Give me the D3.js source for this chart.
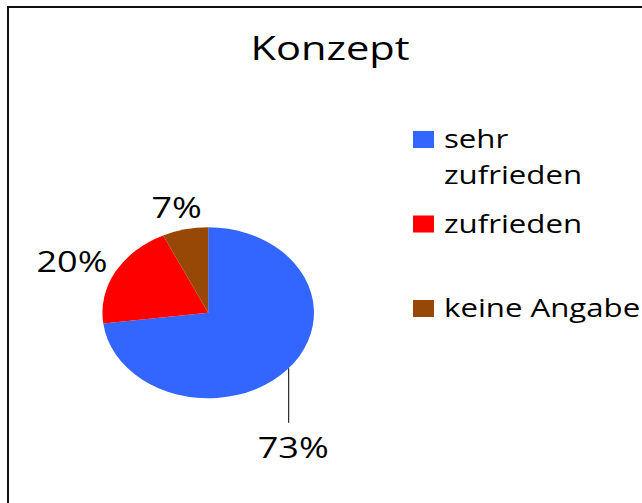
<!DOCTYPE html>
<html>
<head>
<meta charset="utf-8">
<script src="https://cdn.jsdelivr.net/npm/d3@7"></script>
<style>
  body { margin: 0; background: #fff; }
  svg { display: block; }
  text { font-family: "Open Sans", "Noto Sans", sans-serif; fill: #000; }
</style>
</head>
<body>
<svg id="chart" width="642" height="503"></svg>
<script>
// chart data
const title = "Konzept";
const categories = ["sehr zufrieden", "zufrieden", "keine Angabe"];
const values = [73, 20, 7];
const colors = ["#3366FF", "#FF0000", "#974806"];

const W = 642, H = 503;
const svg = d3.select("#chart");

// the original chart is stretched sideways, so is everything here
const sx = 1.237;      // pie stretch
const tx = 1.2;        // text stretch

// frame (runs off the right and bottom edge)
svg.append("rect")
  .attr("x", 8).attr("y", 7)
  .attr("width", W + 50).attr("height", H + 50)
  .style("fill", "none")
  .style("stroke", "#111")
  .style("stroke-width", 2);

let stretchedText = (g, str, x, y, size, anchor, k) =>
  g.append("text")
    .attr("transform", `translate(${x},${y}) scale(${k || tx},1)`)
    .attr("text-anchor", anchor || "start")
    .style("font-size", size + "px")
    .text(str);

// title
stretchedText(svg, title, 330, 60, 32, "middle", 1.3);

// pie
const cx = 208.2, cy = 312.8, r = 85.5;
const pie = d3.pie().sort(null).value(d => d);
const arcs = pie(values);
const arc = d3.arc().innerRadius(0).outerRadius(r);

const pieG = svg.append("g")
  .attr("transform", `translate(${cx},${cy}) scale(${sx},1)`);

pieG.selectAll(".slice")
  .data(arcs)
  .enter()
  .append("path")
  .attr("class", "slice")
  .attr("d", arc)
  .style("fill", (d, i) => colors[i]);

// data labels, outside end
const labelSize = 30, cap = labelSize * 0.714;
const labelArc = d3.arc().innerRadius(97).outerRadius(97);
const fmt = d => d3.format(".0%")(d / d3.sum(values));

arcs.forEach((d, i) => {
  const txt = fmt(d.data);
  if (i === 0) {
    // this label was dragged down below the pie, with a leader line
    const lx = cx + 85, ly = cy + 145;
    const px = lx - 4.5;
    const ex = (px - cx) / (sx * r);
    const py = cy + r * Math.sqrt(1 - ex * ex);
    svg.append("line")
      .attr("x1", px).attr("x2", px)
      .attr("y1", py).attr("y2", ly - 35)
      .style("stroke", "#000")
      .style("stroke-width", 1);
    stretchedText(svg, txt, lx, ly, labelSize, "middle");
    return;
  }
  const a = (d.startAngle + d.endAngle) / 2;
  const c = labelArc.centroid(d);
  const t = stretchedText(svg, txt, 0, 0, labelSize, "middle");
  const w = t.node().getBBox().width * tx;
  const x = cx + c[0] * sx + Math.sin(a) * w / 2;
  const y = cy + c[1] - Math.cos(a) * cap / 2 + cap / 2;
  t.attr("transform", `translate(${x},${y}) scale(${tx},1)`);
});

// legend
const legendX = 413, legendTop = 148, legendStep = 84.5, legendSize = 26;
const maxW = W - 444;
categories.forEach((name, i) => {
  const base = legendTop + i * legendStep;
  svg.append("rect")
    .attr("x", legendX).attr("y", base - 17)
    .attr("width", 21).attr("height", 17)
    .style("fill", colors[i]);

  // wrap words that don't fit in the space right of the swatch
  const words = name.split(" ");
  let lines = [], cur = "";
  const probe = stretchedText(svg, "", -999, -999, legendSize);
  words.forEach(wd => {
    const test = cur ? cur + " " + wd : wd;
    probe.text(test);
    if (probe.node().getComputedTextLength() * tx > maxW && cur) {
      lines.push(cur);
      cur = wd;
    } else cur = test;
  });
  lines.push(cur);
  probe.remove();

  lines.forEach((ln, j) => {
    stretchedText(svg, ln, 444, base + j * 36, legendSize);
  });
});
</script>
</body>
</html>
